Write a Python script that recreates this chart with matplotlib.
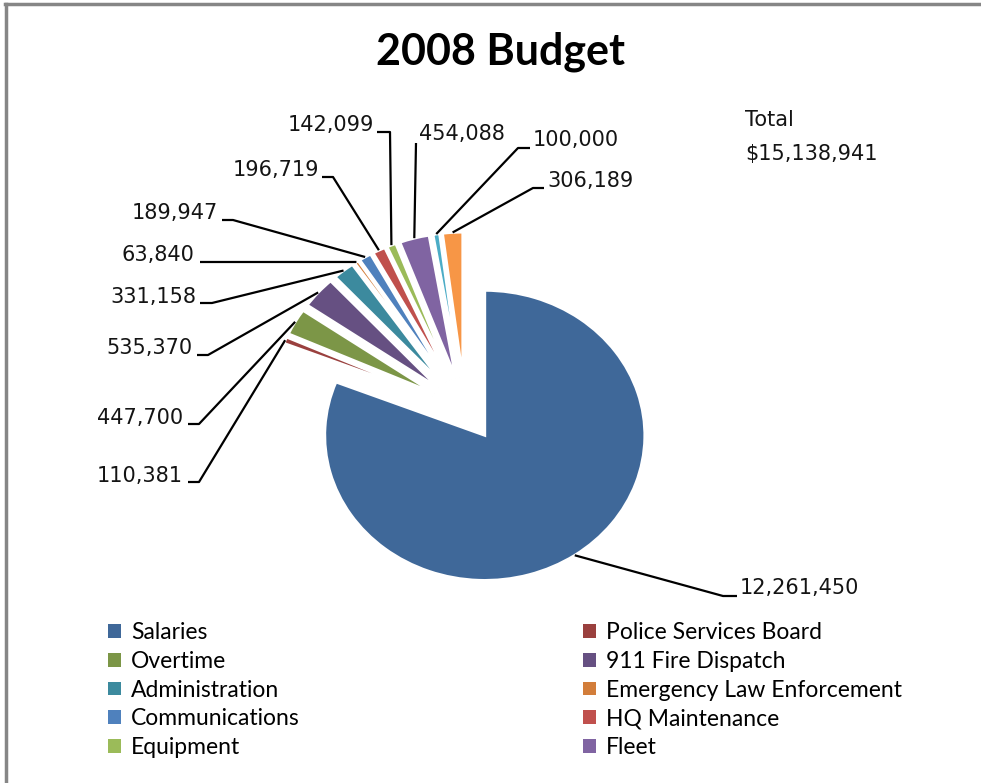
import numpy as np
import matplotlib.pyplot as plt
from matplotlib.lines import Line2D

# 2008 budget breakdown, one value per slice (clockwise from 12 o'clock)
values = [12261450, 110381, 447700, 535370, 331158, 63840,
          189947, 196719, 142099, 454088, 100000, 306189]
# the legend box only has room for the first ten entries
categories = ['Salaries', 'Police Services Board', 'Overtime', '911 Fire Dispatch',
              'Administration', 'Emergency Law Enforcement', 'Communications',
              'HQ Maintenance', 'Equipment', 'Fleet']
colors = ['#3F6899', '#9A403E', '#7C9647', '#665082', '#3C8A9E', '#D27D3A',
          '#4F81BD', '#C0504D', '#9BBB59', '#8064A2', '#4BACC6', '#F79646']

total = sum(values)

# pixel layout of the pie: centre of the unexploded pie and x/y radii
CX, CY, RX, RY = 465, 409, 160, 145
W, H = 981, 783


def to_data(x, y):
    return (x - CX) / RX, (CY - y) / RY


# leader line layout in pixels: elbow, tail end, text anchor, alignment
label_layout = [
    ((723, 596), (737, 596), (740, 588), 'left'),
    ((199, 482), (188, 482), (183, 476), 'right'),
    ((199, 424), (188, 424), (183, 418), 'right'),
    ((208, 355), (197, 355), (193, 348), 'right'),
    ((212, 303), (200, 303), (196, 297), 'right'),
    ((200, 262), (200, 262), (194, 255), 'right'),
    ((233, 220), (222, 220), (218, 213), 'right'),
    ((333, 177), (322, 177), (319, 170), 'right'),
    ((390, 132), (377, 132), (374, 125), 'right'),
    ((416, 143), (416, 143), (419, 134), 'left'),
    ((518, 148), (530, 148), (533, 140), 'left'),
    ((533, 188), (544, 188), (547, 181), 'left'),
]

fig = plt.figure(figsize=(W / 100, H / 100), dpi=100)
ax = fig.add_axes([0, 0, 1, 1])

wedges, _ = ax.pie(values, colors=colors, startangle=90, counterclock=False,
                   explode=[0.22] * len(values),
                   wedgeprops=dict(edgecolor='white', linewidth=2))
ax.set_aspect('auto')
ax.set_xlim(to_data(0, 0)[0], to_data(W, 0)[0])
ax.set_ylim(to_data(0, H)[1], to_data(0, 0)[1])
ax.axis('off')

# data labels with leader lines
for w, v, (elbow, tail, txt, ha) in zip(wedges, values, label_layout):
    mid = np.deg2rad((w.theta1 + w.theta2) / 2)
    sx = w.center[0] + w.r * np.cos(mid)
    sy = w.center[1] + w.r * np.sin(mid)
    ex, ey = to_data(*elbow)
    tx, ty = to_data(*tail)
    ax.plot([sx, ex, tx], [sy, ey, ty], color='black', lw=1.6,
            solid_capstyle='butt', zorder=3)
    lx, ly = to_data(*txt)
    ax.text(lx, ly, f'{v:,}', ha=ha, va='center', fontsize=15,
            family='DejaVu Sans', color='#141414')

fig.text(745 / W, 1 - 120 / H, 'Total', ha='left', va='center', fontsize=15,
         family='DejaVu Sans', color='#141414')
fig.text(745 / W, 1 - 154 / H, f'${total:,}', ha='left', va='center', fontsize=15,
         family='DejaVu Sans', color='#141414')

fig.text(501 / W, 1 - 52 / H, '2008 Budget', ha='center', va='center',
         fontsize=31, fontweight='bold', family='Lato')

# legend in two columns, filled row by row
leg_kw = dict(frameon=False, loc='upper left', borderpad=0, borderaxespad=0,
              handlelength=0.55, handleheight=0.55, handletextpad=0.45,
              labelspacing=0.34, prop=dict(family='Lato', size=16.5))
n = len(categories)
leg1 = fig.legend(wedges[0:n:2], categories[0::2],
                  bbox_to_anchor=(108 / W, 1 - 622 / H), **leg_kw)
leg2 = fig.legend(wedges[1:n:2], categories[1::2],
                  bbox_to_anchor=(583 / W, 1 - 622 / H), **leg_kw)
for leg in (leg1, leg2):
    for h in leg.legend_handles:
        h.set_edgecolor('none')

# chart frame (top and left edges)
fig.add_artist(Line2D([5 / W, 1], [1 - 4 / H, 1 - 4 / H], color='#868686', lw=2.5,
                      transform=fig.transFigure))
fig.add_artist(Line2D([6 / W, 6 / W], [0, 1 - 4 / H], color='#868686', lw=2.5,
                      transform=fig.transFigure))

fig.savefig('out.png', dpi=100, facecolor='white')
